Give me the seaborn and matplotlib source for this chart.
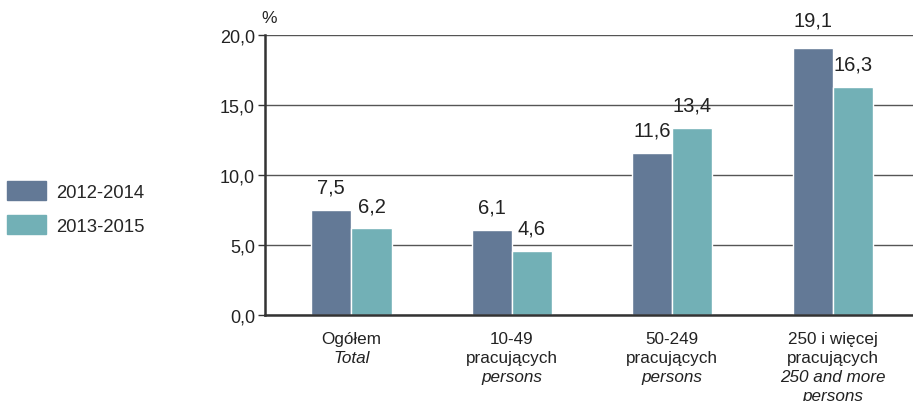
import seaborn as sns
import matplotlib.pyplot as plt
import matplotlib.transforms as mtransforms
import pandas as pd

cat_keys = ['total', '10-49', '50-249', '250+']
# each label: list of (line, italic?)
cat_labels = [
    [('Ogółem', False), ('Total', True)],
    [('10-49', False), ('pracujących', False), ('persons', True)],
    [('50-249', False), ('pracujących', False), ('persons', True)],
    [('250 i więcej', False), ('pracujących', False), ('250 and more', True), ('persons', True)],
]
period_1 = [7.5, 6.1, 11.6, 19.1]
period_2 = [6.2, 4.6, 13.4, 16.3]
series = ['2012-2014', '2013-2015']
colors = ['#637996', '#72b0b6']

df = pd.DataFrame({
    'cat': cat_keys * 2,
    'val': period_1 + period_2,
    'period': [series[0]] * 4 + [series[1]] * 4,
})

sns.set_style('white')
plt.rcParams['font.family'] = ['Liberation Sans', 'DejaVu Sans']

fig = plt.figure(figsize=(9.13, 4.02), dpi=100)
ax = fig.add_axes([0.290, 0.214, 0.71, 0.696])

sns.barplot(data=df, x='cat', y='val', hue='period', palette=colors, width=0.5,
            edgecolor='white', linewidth=1, ax=ax, legend=False, saturation=1)

for cont in ax.containers:
    for bar, v in zip(cont, cont.datavalues):
        pad = 13 if v > 18 else 9.5
        ax.annotate(f'{v:.1f}'.replace('.', ','), xy=(bar.get_x() + bar.get_width() / 2, v),
                    xytext=(0, pad), textcoords='offset points', ha='center', va='bottom',
                    fontsize=14.5, color='#222222', annotation_clip=False)

ax.set_ylim(0, 20)
ax.set_xlim(-0.54, 3.5)
ax.set_yticks([0, 5, 10, 15, 20])
ax.set_yticklabels(['0,0', '5,0', '10,0', '15,0', '20,0'], fontsize=13, color='#222222')
ax.set_xticks(range(4))
ax.set_xticklabels([''] * 4)
ax.tick_params(axis='x', length=0)
ax.tick_params(axis='y', length=5, width=1, color='#333333', left=True, pad=2)
ax.set_xlabel('')
ax.set_ylabel('')

# category labels, line by line (pixel offsets below the axis)
trans = mtransforms.blended_transform_factory(ax.transData, ax.transAxes)
for i, lines in enumerate(cat_labels):
    for j, (txt, it) in enumerate(lines):
        ax.annotate(txt, xy=(i, 0), xycoords=trans, xytext=(0, -11.5 - j * 13.8),
                    textcoords='offset points', ha='center', va='top', fontsize=12.3,
                    style='italic' if it else 'normal', color='#222222', annotation_clip=False)

ax.set_axisbelow(True)
ax.yaxis.grid(True, color='#555555', linewidth=1)
for s in ['top', 'right']:
    ax.spines[s].set_visible(False)
ax.spines['left'].set_color('#333333')
ax.spines['left'].set_linewidth(1.8)
ax.spines['bottom'].set_color('#333333')
ax.spines['bottom'].set_linewidth(1.8)

ax.text(-0.005, 1.035, '%', transform=ax.transAxes, fontsize=12.5, color='#222222', ha='left', va='bottom')

handles = [plt.Rectangle((0, 0), 1, 1, color=c) for c in colors]
fig.legend(handles, series, loc='upper left', bbox_to_anchor=(0.0, 0.565), frameon=False,
           fontsize=13.3, handlelength=2.1, handleheight=1.2, handletextpad=0.55,
           labelspacing=0.75, borderaxespad=0.0)

fig.savefig('out.png', dpi=100)
